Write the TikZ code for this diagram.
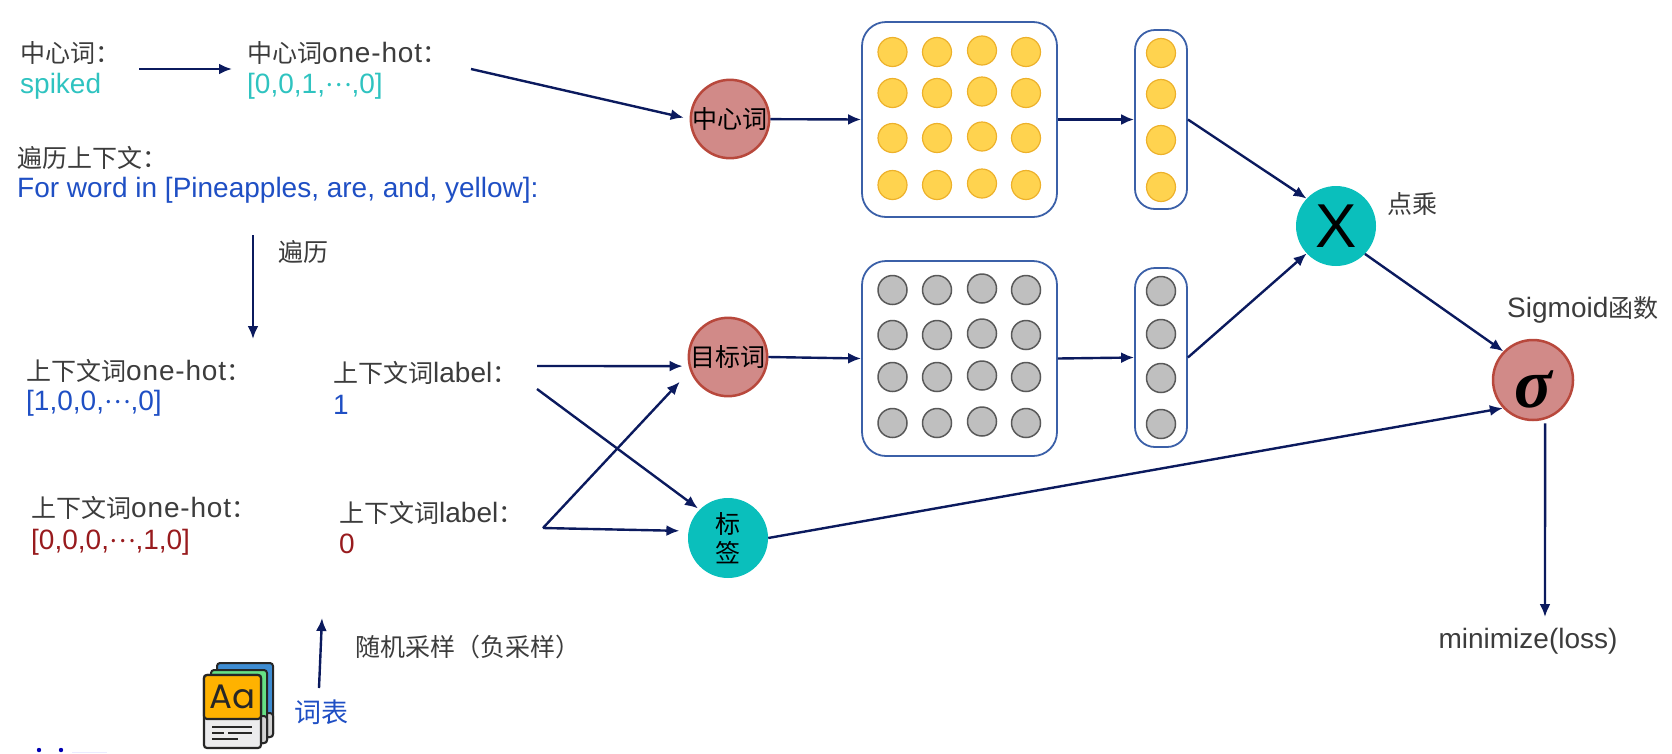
\documentclass[tikz,border=0pt]{standalone}
\usepackage{fontspec}
\usetikzlibrary{arrows.meta}
\setmainfont{Liberation Sans}
\newfontfamily\cjk{Noto Sans CJK SC}
\newfontfamily\iconfont{Poppins}
\newfontfamily\sigmafont{Liberation Serif}
\newcommand{\zh}[1]{{\cjk\fontsize{25}{25}\selectfont #1}}
\newcommand{\midots}{\raisebox{7pt}{\zh{⋯}}}
\newcommand{\onehot}{{\addfontfeature{LetterSpace=3}one-hot}}
\definecolor{navyline}{HTML}{0B1A5E}
\definecolor{txtgray}{HTML}{3C3C3C}
\definecolor{tealtxt}{HTML}{2FC3C0}
\definecolor{bluetxt}{HTML}{1F4FC4}
\definecolor{redtxt}{HTML}{981B1E}
\definecolor{rosefill}{HTML}{D18A88}
\definecolor{rosedraw}{HTML}{B8483C}
\definecolor{tealfill}{HTML}{0ABFBC}
\definecolor{boxdraw}{HTML}{3B60A8}
\definecolor{dotyellow}{HTML}{FFD34F}
\definecolor{dotrim}{HTML}{EDB12B}
\tikzset{
txt/.style={anchor=west,inner sep=0pt,font=\fontsize{28}{28}\selectfont,text=txtgray},
link/.style={-{Latex[length=13pt,width=11pt]},draw=navyline,line width=2.4pt},
rosenode/.style={circle,minimum size=78pt,inner sep=0pt,fill=rosefill,draw=rosedraw,line width=2.5pt,text=black,font=\fontsize{24}{24}\selectfont},
tealnode/.style={circle,minimum size=80pt,inner sep=0pt,fill=tealfill,text=black,font=\fontsize{25}{25}\selectfont},
bigbox/.style={draw=boxdraw,line width=1.8pt,rounded corners=24pt,minimum width=195pt,minimum height=195pt},
slimbox/.style={draw=boxdraw,line width=1.8pt,rounded corners=20pt,minimum width=52pt},
yellowdot/.style={circle,minimum size=29pt,inner sep=0pt,fill=dotyellow,draw=dotrim,line width=1.2pt},
graydot/.style={circle,minimum size=29pt,inner sep=0pt,fill=black!25,draw=black!65,line width=1.5pt}
}
\begin{document}
\begin{tikzpicture}[>=latex,x=1pt,y=-1pt]
\useasboundingbox (0,0) rectangle (1672,753);
\node[txt] (centerlabel) at (20,53) {\zh{中心词：}};
\node[txt,text=tealtxt] (centerword) at (20,86) {spiked};
\node[txt] (onehotlabel) at (247,53) {\zh{中心词}\onehot\zh{：}};
\node[txt,text=tealtxt] (onehotvec) at (247,86) {[0,0,1,\midots,0]};
\node[txt] (walklabel) at (17,158) {\zh{遍历上下文：}};
\node[txt,text=bluetxt] (walkloop) at (17,190) {For word in [Pineapples, are, and, yellow]:};
\node[txt] (walktxt) at (278,252) {\zh{遍历}};
\node[txt] (poshot) at (26,371) {\zh{上下文词}\onehot\zh{：}};
\node[txt,text=bluetxt] (posvec) at (26,403) {[1,0,0,\midots,0]};
\node[txt] (poslabel) at (333,373) {\zh{上下文词}label\zh{：}};
\node[txt,text=bluetxt] (posval) at (333,405) {1};
\node[txt] (neghot) at (31,508) {\zh{上下文词}\onehot\zh{：}};
\node[txt,text=redtxt] (negvec) at (31,542) {[0,0,0,\midots,1,0]};
\node[txt] (neglabel) at (339,513) {\zh{上下文词}label\zh{：}};
\node[txt,text=redtxt] (negval) at (339,544) {0};
\node[txt] (sampletxt) at (355,647) {\zh{随机采样（负采样）}};
\node[txt,text=bluetxt,anchor=center,font=\cjk\fontsize{27}{27}\selectfont] (vocabtxt) at (321,712) {词表};
\node[txt] (dottxt) at (1387,204) {\zh{点乘}};
\node[txt] (sigmoidtxt) at (1507,310) {Sigmoid\zh{函数}};
\node[txt,anchor=center] (losstxt) at (1528,641) {minimize(loss)};
\node[rosenode] (centernode) at (730,119) {\zh{中心词}};
\node[rosenode] (targetnode) at (728,357) {\zh{目标词}};
\node[tealnode,align=center] (tagnode) at (728,538) {\zh{标}\\[4pt]\zh{签}};
\node[tealnode,font=\fontsize{62}{62}\selectfont] (dotnode) at (1336,226) {X};
\node[rosenode,minimum size=80pt,font=\sigmafont\bfseries\itshape\fontsize{70}{70}\selectfont] (sigmanode) at (1533,380) {\raisebox{-27pt}[0pt][0pt]{σ}};
\node[bigbox] (centerbox) at (959.5,119.5) {};
\node[bigbox] (targetbox) at (959.5,358.5) {};
\node[slimbox,minimum height=179pt] (centervec) at (1161,119.5) {};
\node[slimbox,minimum height=179pt] (targetvec) at (1161,357.5) {};
\foreach \i/\x/\s in {1/892.5/0,2/937/0,3/982/-1.5,4/1026/0}{
\foreach \j/\y/\v in {1/52/290,2/93/335,3/138/377,4/185/423}{
\node[yellowdot] (ya\i\j) at (\x,\y+\s) {};
\node[graydot] (ga\i\j) at (\x,\v+\s) {};
}}
\foreach \j/\y/\v in {1/53/291,2/94/334,3/140/378,4/187/424}{
\node[yellowdot] (yb\j) at (1161,\y) {};
\node[graydot] (gb\j) at (1161,\v) {};
}
\coordinate (a1) at (139,69);
\coordinate (a2) at (232,69);
\coordinate (b1) at (471,69);
\coordinate (w1) at (253,235);
\coordinate (w2) at (253,339);
\coordinate (p1) at (537,366);
\coordinate (p2) at (537,389);
\coordinate (n1) at (543,528);
\coordinate (s1) at (319,688);
\coordinate (s2) at (322,618);
\coordinate (m1) at (1545,617);
\draw[link](a1)--(a2);
\draw[link,shorten >=6pt](b1)--(centernode.180);
\draw[link](w1)--(w2);
\draw[link,shorten >=6pt](p1)--(targetnode.193);
\draw[link,shorten >=2pt](p2)--(tagnode.135);
\draw[link,shorten >=15pt](n1)--(targetnode.200);
\draw[link,shorten >=9pt](n1)--(tagnode.170);
\draw[link](s1)--(s2);
\draw[link](centernode)--(centerbox.west);
\draw[link](centerbox.east)--(centervec.west);
\draw[link](targetnode.east)--(targetbox.west);
\draw[link](targetbox.east)--(targetvec.west);
\draw[link](centervec.east)--(dotnode.137);
\draw[link](targetvec.east)--(dotnode.223);
\draw[link](dotnode.-44)--(sigmanode.136);
\draw[link](tagnode.east)--(sigmanode.223);
\draw[link,shorten <=4pt](sigmanode.-73)--(m1);
\filldraw[fill=cyan!60!blue!80,draw=black!85,line width=2pt,rounded corners=3pt](217,663) rectangle (273,737);
\filldraw[fill=black!18,draw=black!85,line width=2pt,rounded corners=3pt](262,713) rectangle (273,737);
\filldraw[fill=green!60!teal!60,draw=black!85,line width=2pt,rounded corners=3pt](211,670) rectangle (267,743);
\filldraw[fill=black!18,draw=black!85,line width=2pt,rounded corners=3pt](258,716) rectangle (267,743);
\filldraw[fill=blue!12!black!8,draw=black!85,line width=2.2pt,rounded corners=3pt](204,675) rectangle (261,748);
\filldraw[fill=orange!60!yellow,draw=black!85,line width=2.2pt,rounded corners=3pt](204,675)--(261,675)--(261,719)--(204,719)--cycle;
\node[inner sep=0pt,text=black!85,font=\iconfont\fontsize{34}{34}\selectfont] (icontxt) at (232.5,697) {Aa};
\draw[black!85,line width=2.2pt](212,727)--(252,727);
\draw[black!85,line width=2.2pt](212,733)--(224,733);
\draw[black!85,line width=2.2pt](228,733)--(252,733);
\draw[black!85,line width=2.2pt](212,739)--(238,739);
\fill[blue!70!black](39,750) circle (2.2);
\fill[blue!70!black](61,750) circle (2.2);
\fill[blue!8](72,751.5) rectangle (107,753);
\end{tikzpicture}
\end{document}
